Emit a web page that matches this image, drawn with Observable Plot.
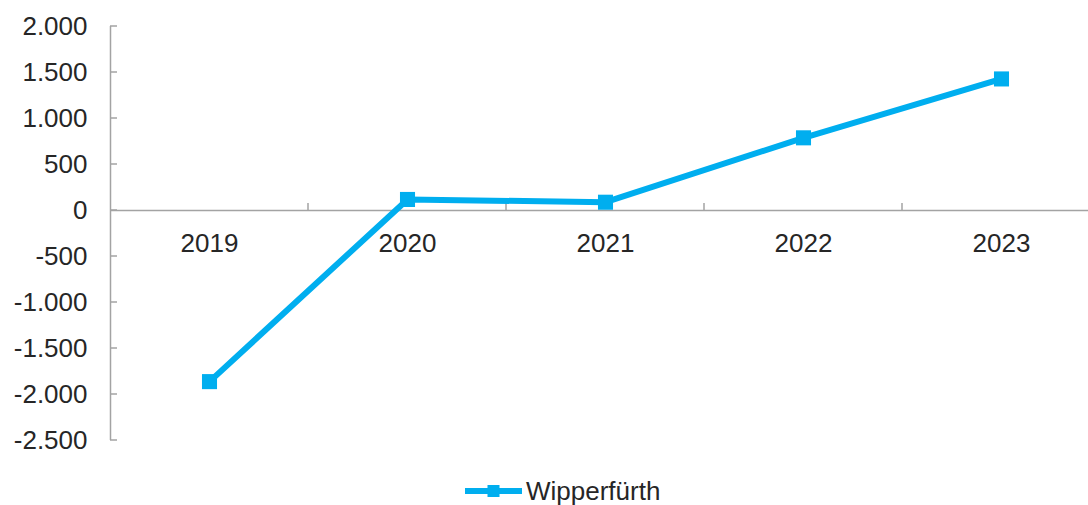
<!DOCTYPE html>
<html>
<head>
<meta charset="utf-8">
<script src="https://cdn.jsdelivr.net/npm/d3@7"></script>
<script src="https://cdn.jsdelivr.net/npm/@observablehq/plot@0.6"></script>
<style>
  html, body { margin: 0; padding: 0; background: #ffffff; }
  body { font-family: "Liberation Sans", Arial, sans-serif; width: 1088px; height: 505px; overflow: hidden; position: relative; }
  #legend { position: absolute; left: 465px; top: 478px; height: 26px; line-height: 26px; display: flex; align-items: center; font-size: 26px; color: #262626; }
  #legend svg { display: block; margin-right: 4px; }
</style>
</head>
<body>
<div id="chart"></div>
<div id="legend"></div>
<script>
// ---- data ----
const years = [2019, 2020, 2021, 2022, 2023];
const values = [-1860, 120, 90, 790, 1430];
const yTicks = [2000, 1500, 1000, 500, 0, -500, -1000, -1500, -2000, -2500];
const seriesName = "Wipperfürth";

// ---- styles ----
const lineColor = "#00aeef";
const axisColor = "#a3a3a3";
const textColor = "#262626";

const data = years.map((year, i) => ({year, value: values[i]}));
const boundaries = years.slice(1).map(y => y - 0.5);
const xStart = years[0] - 0.5;

const de = d3.formatLocale({decimal: ",", thousands: ".", grouping: [3], currency: ["", " €"], minus: "-"});
const fmt = de.format(",");

function innerTicks(index, {x, y}) {
  const g = d3.create("svg:g").attr("stroke", axisColor).attr("stroke-width", 1.5);
  for (const t of yTicks) {
    g.append("line").attr("x1", x(xStart)).attr("x2", x(xStart) + 7).attr("y1", y(t)).attr("y2", y(t));
  }
  for (const b of boundaries) {
    g.append("line").attr("x1", x(b)).attr("x2", x(b)).attr("y1", y(0)).attr("y2", y(0) - 7);
  }
  return g.node();
}

const chart = Plot.plot({
  width: 1088,
  height: 465,
  marginLeft: 110,
  marginRight: 0,
  marginTop: 26,
  marginBottom: 25,
  style: {fontFamily: "Liberation Sans, Arial, sans-serif", background: "#ffffff", overflow: "visible"},
  x: {type: "linear", domain: [xStart, years[years.length - 1] + 0.5], range: [110, 1100], axis: null},
  y: {domain: [-2500, 2000], axis: null},
  marks: [
    Plot.ruleX([xStart], {stroke: axisColor, strokeWidth: 1.5}),
    Plot.ruleY([0], {stroke: axisColor, strokeWidth: 1.5}),
    innerTicks,
    Plot.axisY(yTicks, {anchor: "left", tickSize: 0, tickPadding: 23, tickFormat: fmt, fontSize: 26, fill: textColor, label: null}),
    Plot.text(years, {x: d => d, y: () => 0, dy: 33, text: d => String(d), fontSize: 26, fill: textColor}),
    Plot.line(data, {x: "year", y: "value", stroke: lineColor, strokeWidth: 6, strokeLinejoin: "round"}),
    Plot.dot(data, {x: "year", y: "value", symbol: "square", r: 8.5, fill: lineColor, stroke: "none"})
  ]
});
document.getElementById("chart").append(chart);

// legend
const legend = d3.select("#legend");
const sw = legend.append("svg").attr("width", 57).attr("height", 20);
sw.append("line").attr("x1", 0).attr("x2", 57).attr("y1", 10).attr("y2", 10).attr("stroke", lineColor).attr("stroke-width", 6).attr("stroke-linecap", "round");
sw.append("rect").attr("x", 22.5).attr("y", 4).attr("width", 12).attr("height", 12).attr("fill", lineColor);
legend.append("span").text(seriesName);
</script>
</body>
</html>
